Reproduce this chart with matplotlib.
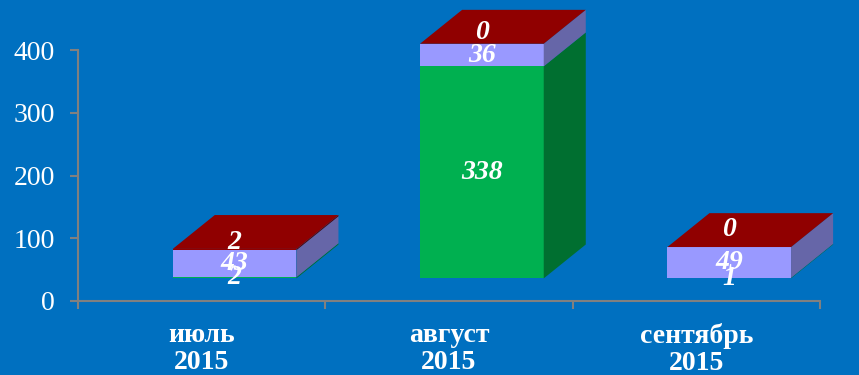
import matplotlib
matplotlib.use("Agg")
import matplotlib.pyplot as plt
from matplotlib.patches import Polygon

# data
months = ["июль\n2015", "август\n2015", "сентябрь\n2015"]
green_vals = [2, 338, 1]
lilac_vals = [43, 36, 49]
red_vals = [2, 0, 0]

# look of the fake 3D bars
bg = "#0070C0"
front_cols = ["#00B050", "#9999FF", "#900000"]
side_cols = ["#006F30", "#6666A8", "#600000"]
base = 36          # front face floats above the floor
shift = 0.133      # front face centre vs category centre
width = 0.5
ddx = 0.17         # depth in x (category units)
ddy = 54           # depth in y (value units)
red_lab_up = [7, 11, 18]   # px the red labels sit above the face

fig = plt.figure(figsize=(8.59, 3.75), dpi=100, facecolor=bg)
ax = fig.add_axes([78 / 859, 74 / 375, (820 - 78) / 859, 301 / 375])
ax.set_facecolor(bg)
ax.set_xlim(-0.5, 2.5)
ax.set_ylim(0, 301 / 0.6275)

serif = ["Liberation Serif", "DejaVu Serif"]
lab_font = dict(family=serif, size=20, weight="bold", style="italic",
                color="white")

for i in range(len(months)):
    x0 = i + shift - width / 2
    x1 = x0 + width
    bottom = base
    segs = [green_vals[i], lilac_vals[i], red_vals[i]]
    for k, v in enumerate(segs):
        ax.bar(x0, v, width=width, bottom=bottom, align="edge",
               color=front_cols[k], linewidth=0, clip_on=False, zorder=3)
        side = [(x1, bottom), (x1 + ddx, bottom + ddy),
                (x1 + ddx, bottom + v + ddy), (x1, bottom + v)]
        ax.add_patch(Polygon(side, closed=True, facecolor=side_cols[k],
                             edgecolor="none", clip_on=False, zorder=3))
        bottom += v
    top = [(x0, bottom), (x1, bottom), (x1 + ddx, bottom + ddy),
           (x0 + ddx, bottom + ddy)]
    ax.add_patch(Polygon(top, closed=True, facecolor=front_cols[2],
                         edgecolor="none", clip_on=False, zorder=3))

    # value labels
    xc = i + shift
    y = base
    for k, v in enumerate(segs):
        if k < 2:
            ax.text(xc, y + v / 2, str(v), ha="center", va="center",
                    zorder=5, **lab_font)
        else:
            ax.annotate(str(v), (xc, y + v / 2), xytext=(0, red_lab_up[i] * 0.72),
                        textcoords="offset points", ha="center", va="center",
                        zorder=5, **lab_font)
        y += v

# axes styling
for s in ["top", "right"]:
    ax.spines[s].set_visible(False)
for s in ["left", "bottom"]:
    ax.spines[s].set_color("#808080")
    ax.spines[s].set_linewidth(1.5)
ax.spines["left"].set_bounds(0, 400)

ax.set_yticks([0, 100, 200, 300, 400])
ax.tick_params(axis="y", colors="#808080", length=6, width=1.5, pad=10.5,
               labelcolor="white", labelsize=20)
for t in ax.get_yticklabels():
    t.set_family(serif)

ax.set_xticks([0, 1, 2])
ax.set_xticklabels(months, fontsize=20, fontweight="bold", color="white",
                   family=serif, linespacing=1.1)
ax.set_xticks([-0.5, 0.5, 1.5, 2.5], minor=True)
ax.tick_params(axis="x", which="major", length=0, pad=16)
ax.tick_params(axis="x", which="minor", length=6, width=1.5, colors="#808080")

fig.savefig("out.png", dpi=100, facecolor=bg)
